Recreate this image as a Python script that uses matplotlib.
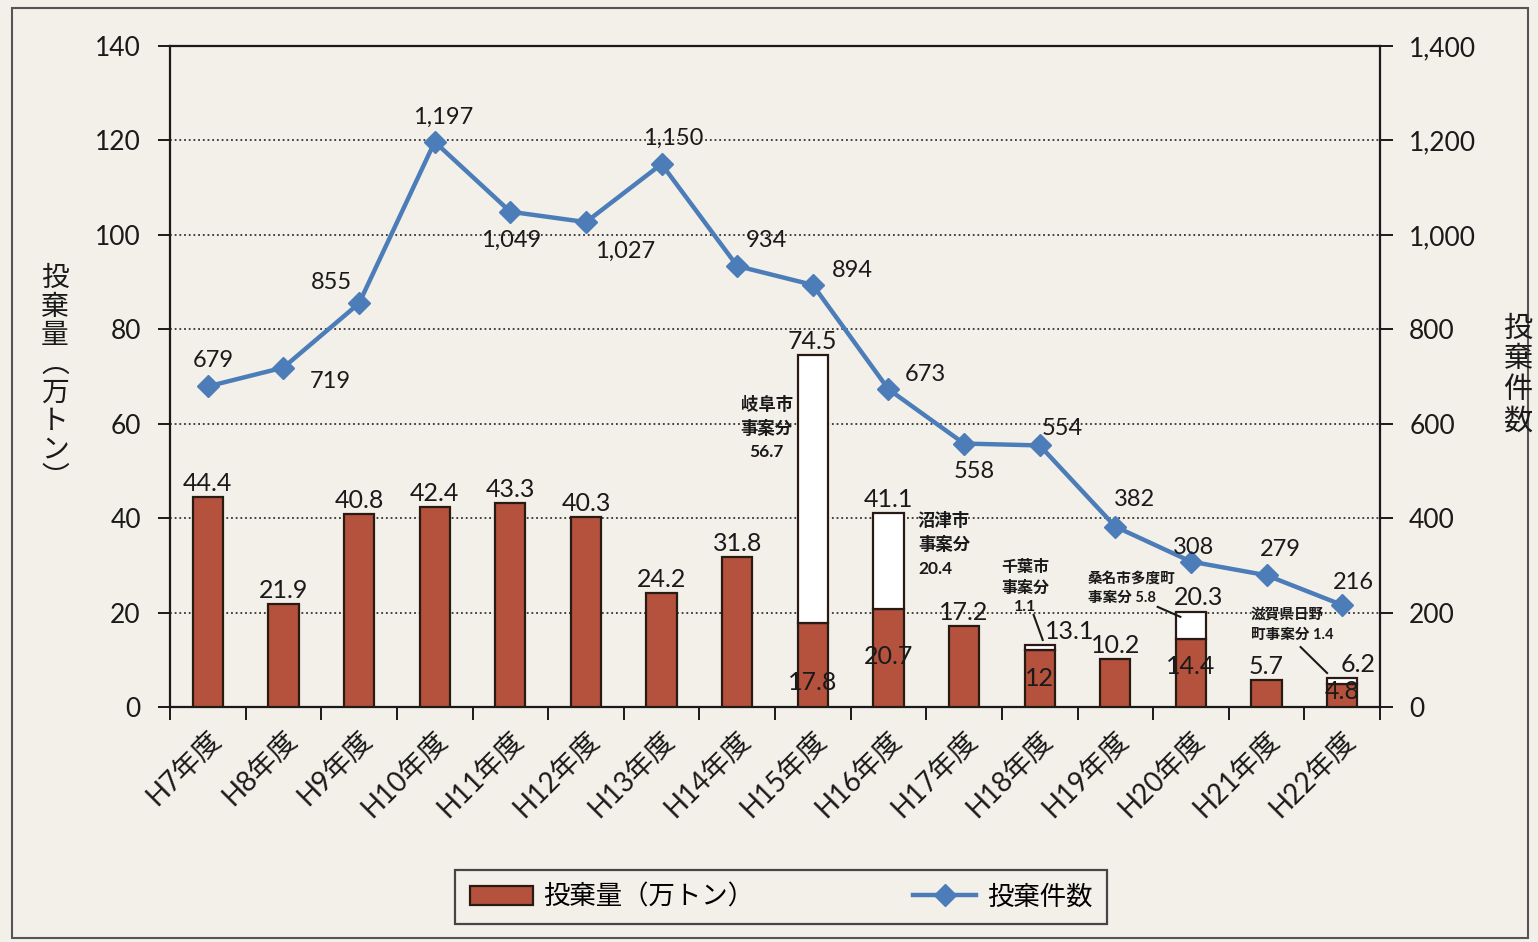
import matplotlib
matplotlib.use("Agg")
import matplotlib.pyplot as plt
from matplotlib.patches import Rectangle
from matplotlib.ticker import FuncFormatter, FixedLocator

plt.rcParams['font.family'] = ['Lato', 'Noto Sans CJK JP', 'DejaVu Sans']

# 年度ごとの不法投棄量と投棄件数
years = ['H7年度', 'H8年度', 'H9年度', 'H10年度', 'H11年度', 'H12年度', 'H13年度', 'H14年度',
         'H15年度', 'H16年度', 'H17年度', 'H18年度', 'H19年度', 'H20年度', 'H21年度', 'H22年度']
total_amount = [44.4, 21.9, 40.8, 42.4, 43.3, 40.3, 24.2, 31.8,
                74.5, 41.1, 17.2, 13.1, 10.2, 20.3, 5.7, 6.2]
# 大規模事案を除いた投棄量（事案分を除く部分）
base_amount = [44.4, 21.9, 40.8, 42.4, 43.3, 40.3, 24.2, 31.8,
               17.8, 20.7, 17.2, 12.0, 10.2, 14.4, 5.7, 4.8]
# 大規模事案分
case_amount = [0, 0, 0, 0, 0, 0, 0, 0,
               56.7, 20.4, 0, 1.1, 0, 5.8, 0, 1.4]
incident_count = [679, 719, 855, 1197, 1049, 1027, 1150, 934,
                  894, 673, 558, 554, 382, 308, 279, 216]

BAR_COLOR = '#b4523d'
EDGE = '#2a1a14'
LINE_COLOR = '#4c7db8'
BG = '#f3f0ea'
TXT = '#1a1a1a'

fig = plt.figure(figsize=(15.38, 9.42), dpi=100, facecolor=BG)
ax = fig.add_axes([170 / 1538, 1 - 707 / 942, 1210 / 1538, 661 / 942])
ax.set_facecolor(BG)

x = list(range(len(years)))
bw = 0.4

ax.bar(x, base_amount, width=bw, color=BAR_COLOR, edgecolor=EDGE, linewidth=1.6, zorder=3)
split_idx = [i for i, v in enumerate(case_amount) if v > 0]
ax.bar([x[i] for i in split_idx], [case_amount[i] for i in split_idx], width=bw,
       bottom=[base_amount[i] for i in split_idx], color='white', edgecolor=EDGE,
       linewidth=1.6, zorder=3)

ax.set_xlim(-0.5, len(years) - 0.5)
ax.set_ylim(0, 140)
ax.set_yticks(range(0, 141, 20))
ax.yaxis.grid(True, linestyle=(0, (1, 1.6)), color='#333333', linewidth=1.3, zorder=0)
ax.set_axisbelow(True)

for s in ['left', 'right', 'top', 'bottom']:
    ax.spines[s].set_color(TXT)
    ax.spines[s].set_linewidth(1.6)

ax.tick_params(axis='y', direction='out', length=9, width=1.4, labelsize=19,
               colors=TXT, pad=12)
ax.set_xticks(x)
ax.set_xticklabels(years, rotation=45, ha='right', rotation_mode='anchor', fontsize=20)
ax.tick_params(axis='x', which='major', length=0, pad=14, colors=TXT)
ax.xaxis.set_minor_locator(FixedLocator([i - 0.5 for i in range(len(years) + 1)]))
ax.tick_params(axis='x', which='minor', direction='out', length=9, width=1.4, color=TXT)

# 投棄量ラベル（棒の上）
total_offsets = {11: (30, 2), 13: (8, 2), 15: (16, 2)}
for i, v in enumerate(total_amount):
    dx, dy = total_offsets.get(i, (0, 2))
    ax.annotate(f'{v:g}', (x[i], v), xytext=(dx, dy), textcoords='offset pixels',
                ha='center', va='bottom', fontsize=18, color=TXT, zorder=6)

# 事案分を除いた部分の数値（棒の内側）
inner_y = {8: 5.1, 9: 10.6, 11: 6.1, 13: 8.5, 15: 3.2}
for i in split_idx:
    ax.text(x[i], inner_y[i], f'{base_amount[i]:g}', ha='center', va='center',
            fontsize=18, color=TXT, zorder=6)

# 大規模事案の注記
note_kw = dict(fontsize=12.5, color=TXT, fontweight='bold', zorder=6, linespacing=1.55)
ax.text(7.39, 59.1, f'岐阜市\n事案分\n{case_amount[8]:g}', ha='center', va='center', **note_kw)
ax.text(9.39, 34.5, f'沼津市\n事案分\n{case_amount[9]:g}', ha='left', va='center', **note_kw)
ax.text(10.81, 25.4, f'千葉市\n事案分\n{case_amount[11]:g}', ha='center', va='center',
        fontsize=11.5, color=TXT, fontweight='bold', zorder=6, linespacing=1.45)
ax.text(11.64, 25.2, f'桑名市多度町\n事案分 {case_amount[13]:g}', ha='left', va='center',
        fontsize=10.5, color=TXT, fontweight='bold', zorder=6, linespacing=1.5)
ax.text(13.79, 17.4, f'滋賀県日野\n町事案分 {case_amount[15]:g}', ha='left', va='center',
        fontsize=10.5, color=TXT, fontweight='bold', zorder=6, linespacing=1.5)
ax.plot([10.92, 11.04], [19.5, 14.2], color=TXT, lw=1.5, zorder=6)
ax.plot([12.56, 12.86], [21.2, 19.1], color=TXT, lw=1.5, zorder=6)
ax.plot([14.45, 14.80], [12.7, 7.2], color=TXT, lw=1.5, zorder=6)

# 投棄件数（右軸）
ax2 = ax.twinx()
ax2.set_ylim(0, 1400)
ax2.set_yticks(range(0, 1401, 200))
ax2.yaxis.set_major_formatter(FuncFormatter(lambda v, p: f'{int(v):,}'))
ax2.tick_params(axis='y', direction='out', length=9, width=1.4, labelsize=19,
                colors=TXT, pad=12)
for s in ax2.spines.values():
    s.set_visible(False)
ax2.plot(x, incident_count, color=LINE_COLOR, linewidth=3.2, marker='D', markersize=11,
         markerfacecolor=LINE_COLOR, markeredgecolor=LINE_COLOR, zorder=5)

count_offsets = [(5, 26), (47, -14), (-28, 21), (8, 25), (1, -29), (39, -29), (12, 26),
                 (29, 26), (40, 14), (37, 15), (10, -28), (23, 17), (19, 27), (3, 14),
                 (14, 26), (11, 23)]
for i, v in enumerate(incident_count):
    dx, dy = count_offsets[i]
    ax2.annotate(f'{v:,}', (x[i], v), xytext=(dx, dy), textcoords='offset pixels',
                 ha='center', va='center', fontsize=17, color=TXT, zorder=6)

# 軸タイトル（縦書き）
fig.text(55 / 1538, 1 - 378 / 942, '\n'.join('投棄量︵万トン︶'), ha='center', va='center',
         fontsize=20, color=TXT, linespacing=1.12)
fig.text(1518 / 1538, 1 - 375 / 942, '\n'.join('投棄件数'), ha='center', va='center',
         fontsize=21, color=TXT, linespacing=1.2)

# 凡例
h_bar = Rectangle((0, 0), 1, 1, facecolor=BAR_COLOR, edgecolor=EDGE, linewidth=1.6)
h_line, = ax2.plot([], [], color=LINE_COLOR, linewidth=3.2, marker='D', markersize=11)
leg = fig.legend([h_bar, h_line], ['投棄量（万トン）', '投棄件数'], loc='center',
                 bbox_to_anchor=(781 / 1538, 1 - 897 / 942), ncol=2, fontsize=19,
                 frameon=True, fancybox=False, edgecolor=TXT, facecolor=BG,
                 columnspacing=6.0, handlelength=2.4, handletextpad=0.4,
                 borderpad=0.55, borderaxespad=0)
leg.get_frame().set_linewidth(1.6)

# 外枠
fig.patches.append(Rectangle((12 / 1538, 4 / 942), 1516 / 1538, 930 / 942,
                             transform=fig.transFigure, fill=False, edgecolor='#555555',
                             linewidth=1.5))

fig.savefig('out.png', dpi=100, facecolor=BG)
